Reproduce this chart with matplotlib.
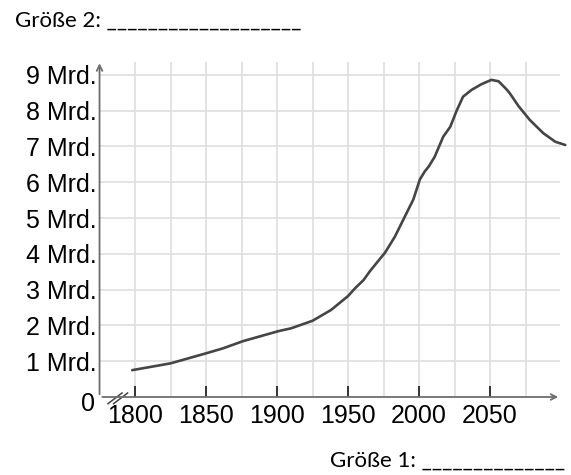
import matplotlib.pyplot as plt

# Weltbevoelkerung (Mrd.)
years = [1798, 1825, 1850, 1862, 1876, 1901, 1910, 1925, 1938, 1950, 1955,
         1961, 1965.5, 1976, 1983, 1990, 1996, 2000.6, 2004, 2007, 2011,
         2017, 2022, 2026.5, 2031, 2037, 2044, 2051, 2056, 2061.5, 2064,
         2070, 2078, 2087.5, 2096, 2103]
pop = [0.75, 0.94, 1.22, 1.36, 1.56, 1.84, 1.92, 2.13, 2.43, 2.82, 3.04,
       3.27, 3.52, 4.03, 4.48, 5.04, 5.52, 6.08, 6.3, 6.45, 6.71,
       7.27, 7.55, 8.0, 8.39, 8.58, 8.74, 8.86, 8.82, 8.6, 8.48,
       8.13, 7.74, 7.37, 7.13, 7.04]

x_ticks = [1800, 1850, 1900, 1950, 2000, 2050]
y_ticks = [1, 2, 3, 4, 5, 6, 7, 8, 9]
y_labels = [f'{v} Mrd.' for v in y_ticks]

x0, x1 = 1775, 2105
y0, y1 = 0, 9.35
grid_end = 2099

fig = plt.figure(figsize=(5.71, 4.75), dpi=100)
ax = fig.add_axes([0.1743, 0.1642, 0.8207, 0.7046])
ax.set_xlim(x0, x1)
ax.set_ylim(y0, y1)
for s in ax.spines.values():
    s.set_visible(False)

# Gitter
grid_kw = dict(color='#dedede', lw=1.2, zorder=1)
for gx in range(1800, 2100, 25):
    ax.vlines(gx, 0, y1, **grid_kw)
ax.hlines(y_ticks, x0, grid_end, **grid_kw)

# Achsen mit Pfeilen
axis_col = '#6e6e6e'
ax.annotate('', xy=(grid_end + 1, 0), xytext=(x0, 0),
            arrowprops=dict(arrowstyle='->', color=axis_col, lw=1.3), annotation_clip=False)
ax.annotate('', xy=(x0, y1 + 0.05), xytext=(x0, 0),
            arrowprops=dict(arrowstyle='->', color=axis_col, lw=1.3), annotation_clip=False)

# Kurve
ax.plot(years, pop, color='#454545', lw=1.9, zorder=3, clip_on=False,
        solid_capstyle='round', solid_joinstyle='round')

# Ticks
font = 'Liberation Sans'
ax.set_xticks(x_ticks)
ax.set_xticklabels([str(v) for v in x_ticks], fontsize=18, family=font)
ax.tick_params(axis='x', direction='in', length=8, width=1.4, color='#333333', pad=5)
ax.set_yticks(y_ticks)
ax.set_yticklabels(y_labels, fontsize=18, family=font)
ax.tick_params(axis='y', length=0, pad=2)
ax.text(-0.01, -0.022, '0', transform=ax.transAxes, ha='right', va='center',
        fontsize=18, family=font)

# Bruchzeichen
for dx in (0.018, 0.030):
    ax.plot([dx, dx + 0.03], [-0.02, 0.012], transform=ax.transAxes,
            color='#444444', lw=1.1, clip_on=False)

fig.text(0.027, 0.943, 'Größe 2: ' + '_' * 19, fontsize=16, family='Lato',
         ha='left', va='baseline')
fig.text(0.578, 0.017, 'Größe 1: ' + '_' * 14, fontsize=16, family='Lato',
         ha='left', va='baseline')

fig.savefig('out.png', dpi=100)
